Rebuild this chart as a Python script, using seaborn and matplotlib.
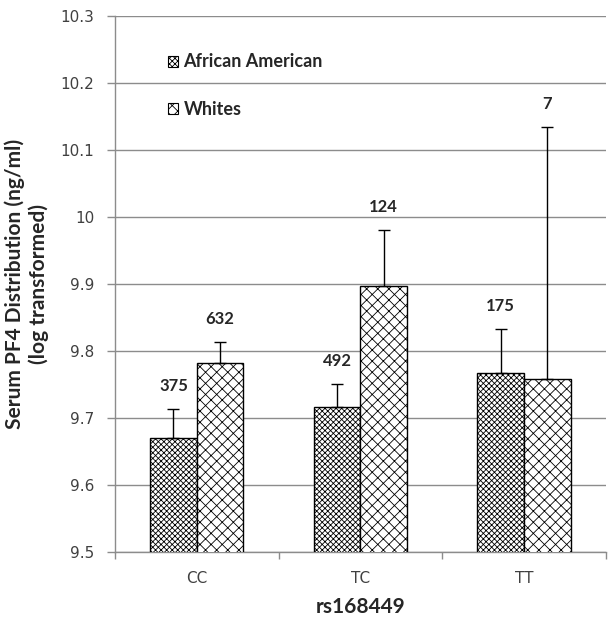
import pandas as pd
import matplotlib
matplotlib.use("Agg")
import matplotlib.pyplot as plt
import matplotlib.patches as mpatches
from matplotlib.ticker import FuncFormatter
import seaborn as sns

# data
genotypes = ["CC", "TC", "TT"]
groups = ["African American", "Whites"]
aa_means = [9.670, 9.717, 9.767]
wh_means = [9.782, 9.897, 9.758]
aa_err = [0.043, 0.034, 0.066]
wh_err = [0.032, 0.083, 0.376]
aa_n = [375, 492, 175]
wh_n = [632, 124, 7]

df = pd.DataFrame({
    "Genotype": genotypes * 2,
    "Group": [groups[0]] * 3 + [groups[1]] * 3,
    "Mean": aa_means + wh_means,
    "Err": aa_err + wh_err,
    "N": aa_n + wh_n,
})

sns.set_style("white")
plt.rcParams["hatch.linewidth"] = 0.6
# ticks in a Verdana-like face, titles/labels in Lato bold
plt.rcParams["font.family"] = ["DejaVu Sans"]
bold_font = ["Lato", "DejaVu Sans"]

fig = plt.figure(figsize=(6.15, 6.24), dpi=100)
ax = fig.add_axes([0.187, 0.1154, 0.798, 0.8590])

ax = sns.barplot(data=df, x="Genotype", y="Mean", hue="Group", order=genotypes,
                 hue_order=groups, width=0.57, errorbar=None, ax=ax,
                 palette=["white", "white"], edgecolor="black", linewidth=1.0,
                 legend=False)

hatches = {groups[0]: "xxxxxx", groups[1]: "xxx"}
for container, grp in zip(ax.containers, groups):
    sub = df[df["Group"] == grp].set_index("Genotype").loc[genotypes]
    for bar, (_, row) in zip(container, sub.iterrows()):
        bar.set_hatch(hatches[grp])
        bar.set_zorder(3)
        cx = bar.get_x() + bar.get_width() / 2
        # plus-only error bar as in the original
        ax.errorbar(cx, row["Mean"], yerr=[[0], [row["Err"]]], fmt="none",
                    ecolor="black", elinewidth=1.0, capsize=4, capthick=1.0, zorder=4)
        ax.annotate(str(row["N"]), (cx, row["Mean"] + row["Err"]),
                    xytext=(0, 16.5), textcoords="offset points",
                    ha="center", va="center", fontsize=12, fontweight="bold",
                    family=bold_font)

ax.set_ylim(9.5, 10.3)
ax.set_yticks([9.5 + 0.1 * i for i in range(9)])
ax.yaxis.set_major_formatter(FuncFormatter(lambda v, p: f"{v:g}"))
ax.set_xlim(-0.5, 2.5)
ax.grid(axis="y", color="#8c8c8c", linewidth=1.0, zorder=0)
ax.set_axisbelow(True)

for s in ["top", "right"]:
    ax.spines[s].set_visible(False)
for s in ["left", "bottom"]:
    ax.spines[s].set_color("#8c8c8c")
    ax.spines[s].set_linewidth(1.0)

ax.tick_params(axis="y", direction="out", length=6, width=1, color="#8c8c8c",
               labelsize=11, labelcolor="#404040", pad=9, left=True)
ax.tick_params(axis="x", bottom=False, labelsize=11, labelcolor="#404040", pad=10)
# boundary ticks on the category axis
ax.set_xticks([-0.5, 0.5, 1.5, 2.5], minor=True)
ax.tick_params(axis="x", which="minor", bottom=True, direction="out", length=5,
               width=1, color="#8c8c8c")

ax.set_xlabel("rs168449", fontsize=15, fontweight="bold", labelpad=8,
              family=bold_font)
ax.set_ylabel("Serum PF4 Distribution (ng/ml)\n(log transformed)", fontsize=15,
              fontweight="bold", labelpad=8, family=bold_font)

handles = [mpatches.Patch(facecolor="white", edgecolor="black", hatch=hatches[g],
                          linewidth=0.8, label=g) for g in groups]
ax.legend(handles=handles, loc="upper left", bbox_to_anchor=(0.108, 0.93),
          frameon=False, borderpad=0, borderaxespad=0, handlelength=0.55,
          handleheight=0.55, handletextpad=0.3, labelspacing=1.7,
          prop={"weight": "bold", "size": 13, "family": bold_font})

fig.savefig("out.png", dpi=100)
